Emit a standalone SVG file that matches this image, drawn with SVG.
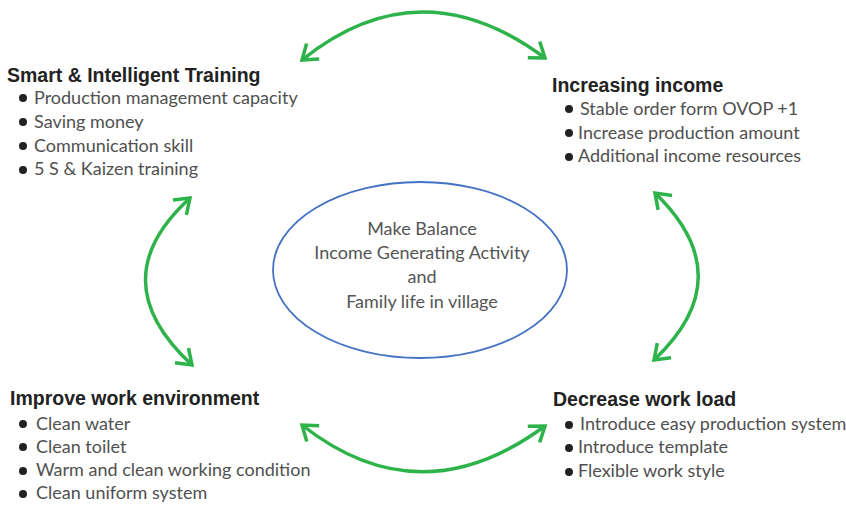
<svg xmlns="http://www.w3.org/2000/svg" width="846" height="507" viewBox="0 0 846 507">
<style>
.h{font-family:"Liberation Sans",Arial,sans-serif;font-weight:bold;font-size:19.5px;fill:#222}
.b{font-family:Lato,"Open Sans",sans-serif;font-size:18px;fill:#505050}
.c{font-family:Lato,"Open Sans",sans-serif;font-size:18px;fill:#555;text-anchor:middle}
.dot{fill:#222}
.arr{fill:none;stroke:#2eb34a;stroke-width:3.5;marker-start:url(#ah);marker-end:url(#ah)}
</style>
<defs>
<marker id="ah" viewBox="-20 -14 24 28" markerWidth="24" markerHeight="28" refX="0" refY="0" orient="auto-start-reverse" markerUnits="userSpaceOnUse">
<path d="M -14 -10 L 0 0 L -14 10" fill="none" stroke="#2eb34a" stroke-width="3.5" stroke-linejoin="miter"/>
</marker>
</defs>
<rect width="846" height="507" fill="#fff"/>
<g id="connectors">
<path class="arr" d="M 302 60 Q 420 -35 545 58"/>
<path class="arr" d="M 190 198 Q 100 280 192 365"/>
<path class="arr" d="M 655 193 Q 742 277 654 360"/>
<path class="arr" d="M 302 425 Q 420 518 545 426"/>
</g>
<g id="center">
<ellipse cx="420" cy="270" rx="147" ry="88" fill="none" stroke="#4472c4" stroke-width="1.8"/>
<text class="c" x="422" y="235">Make Balance</text>
<text class="c" x="422" y="259">Income Generating Activity</text>
<text class="c" x="422" y="283">and</text>
<text class="c" x="422" y="308">Family life in village</text>
</g>
<g id="training">
<text class="h" x="7" y="82">Smart &amp; Intelligent Training</text>
<circle class="dot" cx="23" cy="98" r="4"/><text class="b" x="34" y="104">Production management capacity</text>
<circle class="dot" cx="23" cy="122" r="4"/><text class="b" x="34" y="128">Saving money</text>
<circle class="dot" cx="23" cy="146" r="4"/><text class="b" x="34" y="152">Communication skill</text>
<circle class="dot" cx="23" cy="170" r="4"/><text class="b" x="34" y="175">5 S &amp; Kaizen training</text>
</g>
<g id="income">
<text class="h" x="552" y="92">Increasing income</text>
<circle class="dot" cx="569" cy="109" r="4"/><text class="b" x="580" y="115">Stable order form OVOP +1</text>
<circle class="dot" cx="569" cy="133" r="4"/><text class="b" x="578" y="139">Increase production amount</text>
<circle class="dot" cx="569" cy="157" r="4"/><text class="b" x="578" y="162">Additional income resources</text>
</g>
<g id="environment">
<text class="h" x="10" y="405">Improve work environment</text>
<circle class="dot" cx="23" cy="424" r="4"/><text class="b" x="36" y="430">Clean water</text>
<circle class="dot" cx="23" cy="447" r="4"/><text class="b" x="36" y="453">Clean toilet</text>
<circle class="dot" cx="23" cy="471" r="4"/><text class="b" x="36" y="476">Warm and clean working condition</text>
<circle class="dot" cx="23" cy="494" r="4"/><text class="b" x="36" y="499">Clean uniform system</text>
</g>
<g id="workload">
<text class="h" x="553" y="406">Decrease work load</text>
<circle class="dot" cx="569" cy="425" r="4"/><text class="b" x="580" y="430">Introduce easy production system</text>
<circle class="dot" cx="569" cy="448" r="4"/><text class="b" x="578" y="453">Introduce template</text>
<circle class="dot" cx="569" cy="472" r="4"/><text class="b" x="578" y="477">Flexible work style</text>
</g>
</svg>
